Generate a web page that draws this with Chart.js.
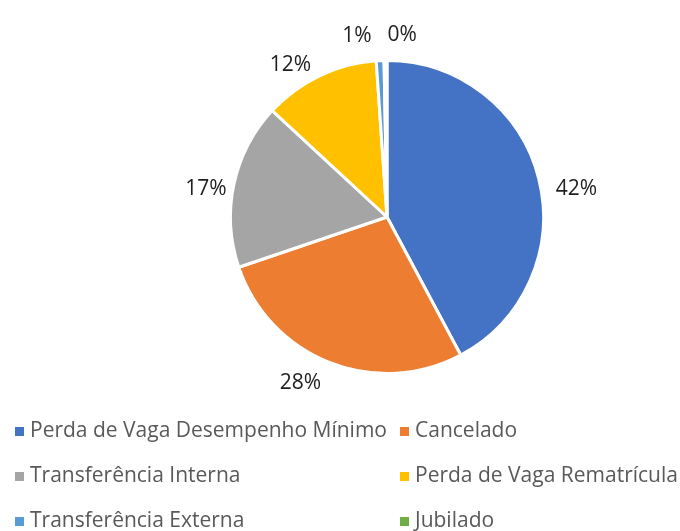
<!DOCTYPE html>
<html><head><meta charset="utf-8">
<script src="https://cdn.jsdelivr.net/npm/chart.js@4/dist/chart.umd.min.js"></script>
<style>html,body{margin:0;padding:0;background:#fff}#wrap{width:680px;height:531px}</style>
</head><body><div id="wrap"><canvas id="c" width="680" height="531"></canvas></div>
<script>
const categories = ["Perda de Vaga Desempenho Mínimo","Cancelado","Transferência Interna","Perda de Vaga Rematrícula","Transferência Externa","Jubilado"];
const values = [42.2, 27.6, 17.1, 12.0, 0.8, 0.3];
const colors = ["#4472C4","#ED7D31","#A5A5A5","#FFC000","#5B9BD5","#70AD47"];
const FONT = "'Open Sans', sans-serif";

const labelNudge = [[6,15],[-17,0],[4,9],[-15,9],[-22,-3],[17,-3]];
const labelsPlugin = {
  id:'outLabels',
  afterDatasetsDraw(chart){
    const ctx = chart.ctx;
    const meta = chart.getDatasetMeta(0);
    const total = values.reduce((a,b)=>a+b,0);
    ctx.save();
    ctx.font = "21px " + FONT;
    ctx.fillStyle = "#1f1f1f";
    ctx.textAlign = "center"; ctx.textBaseline = "middle";
    meta.data.forEach((arc,i)=>{
      const mid = (arc.startAngle+arc.endAngle)/2;
      const r = arc.outerRadius + 12;
      const txt = Math.round(values[i]/total*100) + "%";
      const w = ctx.measureText(txt).width;
      let x = arc.x + Math.cos(mid)*r + Math.cos(mid)*w/2;
      let y = arc.y + Math.sin(mid)*r + Math.sin(mid)*10;
      x += labelNudge[i][0]; y += labelNudge[i][1];
      ctx.fillText(txt, x, y);
    });
    ctx.restore();
  }
};
const legendPlugin = {
  id:'gridLegend',
  afterDraw(chart){
    const ctx = chart.ctx;
    ctx.save();
    ctx.font = "21px " + FONT;
    ctx.textBaseline = "middle"; ctx.textAlign = "left";
    const colX = [15, 400], rowY = [431, 476, 521];
    categories.forEach((c,i)=>{
      const x = colX[i%2], y = rowY[Math.floor(i/2)];
      ctx.fillStyle = colors[i];
      ctx.fillRect(x, y-4, 9, 9);
      ctx.fillStyle = "#595959";
      ctx.fillText(c, x+15, y);
    });
    ctx.restore();
  }
};
new Chart(document.getElementById('c'), {
  type:'pie',
  data:{labels:categories, datasets:[{data:values, backgroundColor:colors, borderColor:'#fff', borderWidth:3}]},
  options:{
    responsive:false, animation:false,
    layout:{padding:{top:58, bottom:155, left:229, right:135}},
    plugins:{legend:{display:false}, tooltip:{enabled:false}}
  },
  plugins:[labelsPlugin, legendPlugin]
});
</script></body></html>
